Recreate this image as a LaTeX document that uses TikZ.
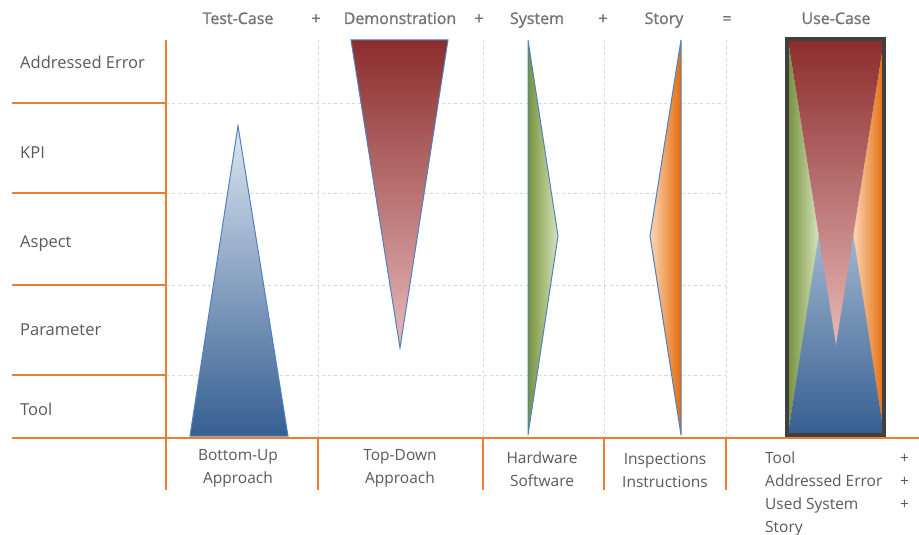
\documentclass[tikz,border=0pt]{standalone}
\usepackage{fontspec}
\setmainfont{Open Sans}
\newfontfamily\headfont[FakeBold=1.2]{Open Sans}
\usepackage{tikz}

\definecolor{frameorange}{RGB}{237,125,49}
\definecolor{gridgray}{RGB}{215,215,215}
\definecolor{labelgray}{RGB}{89,89,89}
\definecolor{headgray}{RGB}{115,115,115}
\definecolor{edgeblue}{RGB}{79,129,189}
\definecolor{bluedark}{RGB}{54,95,145}
\definecolor{bluelight}{RGB}{220,230,242}
\definecolor{reddark}{RGB}{140,45,45}
\definecolor{redlight}{RGB}{230,185,184}
\definecolor{greendark}{RGB}{118,146,60}
\definecolor{greenlight}{RGB}{215,228,189}
\definecolor{orangedark}{RGB}{228,108,10}
\definecolor{orangelight}{RGB}{252,213,181}
\definecolor{boxgray}{RGB}{64,64,64}

\begin{document}
\begin{tikzpicture}[x=1pt,y=-1pt]
        \useasboundingbox (0,0) rectangle (919,535);

        % grid
        \begin{scope}[gridgray, dashed, line width=0.8pt]
            \foreach \y in {103,193,285,375}
                \draw (166,\y) -- (726,\y);
            \foreach \x in {318,483,604,726}
                \draw (\x,40) -- (\x,438);
        \end{scope}

        % frame
        \begin{scope}[frameorange, line width=2.7pt]
            \foreach \y in {103,193,285,375}
                \draw (12,\y) -- (166,\y);
            \draw (12,438) -- (919,438);
            \draw (166,40) -- (166,490);
            \foreach \x in {318,483,604,726}
                \draw (\x,438) -- (\x,490);
        \end{scope}

        % single triangles
        \shade[top color=bluelight, bottom color=bluedark, draw=edgeblue, line width=1pt]
            (190,436) -- (238,126) -- (288,436) -- cycle;
        \shade[top color=reddark, bottom color=redlight, draw=edgeblue, line width=1pt]
            (351,40) -- (448,40) -- (400,348) -- cycle;
        \shade[left color=greendark, right color=greenlight, draw=edgeblue, line width=1pt]
            (528,40) -- (558,236) -- (528,435) -- cycle;
        \shade[left color=orangelight, right color=orangedark, draw=edgeblue, line width=1pt]
            (681,40) -- (650,236) -- (681,435) -- cycle;

        % use-case
        \shade[left color=greendark, right color=greenlight]
            (788,40) -- (819,237) -- (788,434) -- cycle;
        \shade[left color=orangelight, right color=orangedark]
            (884,40) -- (853,237) -- (884,434) -- cycle;
        \shade[top color=bluelight, bottom color=bluedark]
            (788,434) -- (836,123) -- (884,434) -- cycle;
        \shade[top color=reddark, bottom color=redlight]
            (788,40) -- (884,40) -- (836,345) -- cycle;
        \draw[boxgray, line width=4pt] (787,39) rectangle (884,435);

        % headers
        \begin{scope}[every node/.style={anchor=base, inner sep=0pt, text=headgray, font=\headfont\fontsize{16}{18}\selectfont}]
            \node (tc) at (238,24) {Test-Case};
            \node (p1) at (316,24) {+};
            \node (dm) at (400,24) {Demonstration};
            \node (p2) at (479,24) {+};
            \node (sy) at (537,24) {System};
            \node (p3) at (603,24) {+};
            \node (st) at (664,24) {Story};
            \node (eq) at (727,24) {=};
            \node (uc) at (836,24) {Use-Case};
        \end{scope}

        % rows
        \begin{scope}[every node/.style={anchor=base west, inner sep=0pt, text=labelgray, font=\fontsize{16.5}{18}\selectfont}]
            \node (ae) at (20,69) {Addressed Error};
            \node (kpi) at (20,158) {KPI};
            \node (asp) at (20,247) {Aspect};
            \node (par) at (20,335) {Parameter};
            \node (tool) at (20,415) {Tool};
        \end{scope}

        % bottom
        \begin{scope}[every node/.style={align=center, text=labelgray, font=\fontsize{15.5}{23}\selectfont}]
            \node (bu) at (238,468) {Bottom-Up\\Approach};
            \node (td) at (400,468) {Top-Down\\Approach};
            \node (hw) at (542,469) {Hardware\\Software};
            \node (ins) at (665,470) {Inspections\\Instructions};
        \end{scope}
        \begin{scope}[every node/.style={anchor=base west, inner sep=0pt, text=labelgray, font=\fontsize{15.5}{18}\selectfont}]
            \node (l1) at (765,463) {Tool};
            \node (l2) at (765,486) {Addressed Error};
            \node (l3) at (765,509) {Used System};
            \node (l4) at (765,532) {Story};
            \node (q1) at (900,463) {+};
            \node (q2) at (900,486) {+};
            \node (q3) at (900,509) {+};
        \end{scope}
    \end{tikzpicture}
\end{document}
